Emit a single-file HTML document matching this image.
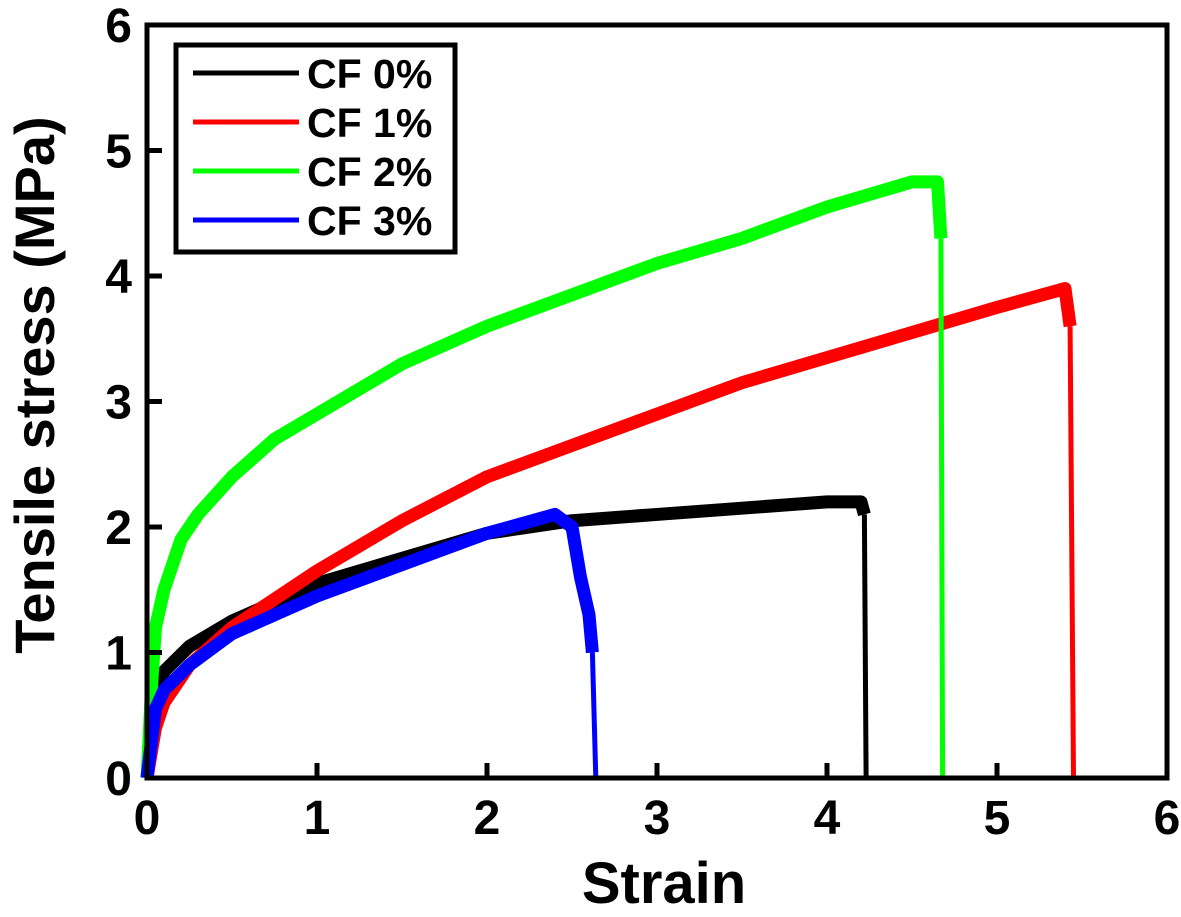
<!DOCTYPE html>
<html><head><meta charset="utf-8"><style>
body{margin:0;background:#fff}
svg text{font-family:"Liberation Sans",Arial,sans-serif;font-weight:bold;fill:#000}
</style></head><body>
<svg id="chart" width="1181" height="912" viewBox="0 0 1181 912">
<g id="series"></g>
<g id="axes"></g>
<g>
<rect x="176" y="45" width="279" height="207" fill="#fff" stroke="#000" stroke-width="5"/>
<line x1="193" y1="73" x2="299" y2="73" stroke="#000" stroke-width="5"/>
<text x="307" y="88" font-size="41">CF 0%</text>
<line x1="193" y1="122" x2="299" y2="122" stroke="#ff0000" stroke-width="5"/>
<text x="307" y="137" font-size="41">CF 1%</text>
<line x1="193" y1="171" x2="299" y2="171" stroke="#00ff00" stroke-width="5"/>
<text x="307" y="186" font-size="41">CF 2%</text>
<line x1="193" y1="220" x2="299" y2="220" stroke="#0000ff" stroke-width="5"/>
<text x="307" y="235" font-size="41">CF 3%</text>
</g>
<text x="664" y="903" font-size="58" text-anchor="middle">Strain</text>
<text transform="translate(54,385) rotate(-90)" font-size="56" text-anchor="middle">Tensile stress (MPa)</text>
</svg>
<script>
const xTicks=[0,1,2,3,4,5,6];
const yTicks=[0,1,2,3,4,5,6];
const cf0Strain=[0,0.05,0.1,0.25,0.5,0.75,1,1.5,2,2.5,3,3.5,4,4.2,4.22,4.23];
const cf0Stress=[0,0.6,0.85,1.05,1.25,1.4,1.55,1.75,1.95,2.05,2.1,2.15,2.2,2.2,2.1,0];
const cf1Strain=[0,0.05,0.1,0.25,0.5,1,1.5,2,2.5,3,3.5,4,4.5,5,5.4,5.43,5.45];
const cf1Stress=[0,0.4,0.6,0.9,1.2,1.65,2.05,2.4,2.65,2.9,3.15,3.35,3.55,3.75,3.9,3.6,0];
const cf2Strain=[0,0.03,0.05,0.1,0.2,0.3,0.5,0.75,1,1.5,2,2.5,3,3.5,4,4.5,4.65,4.67,4.68];
const cf2Stress=[0,0.8,1.2,1.5,1.9,2.1,2.4,2.7,2.9,3.3,3.6,3.85,4.1,4.3,4.55,4.75,4.75,4.3,0];
const cf3Strain=[0,0.05,0.1,0.25,0.5,1,1.5,2,2.4,2.5,2.55,2.6,2.62,2.64];
const cf3Stress=[0,0.55,0.7,0.9,1.15,1.45,1.7,1.95,2.1,2.0,1.6,1.3,1.0,0];
const X0=147,X1=1167,Y0=778,Y1=25;
const sx=v=>X0+(X1-X0)*v/6, sy=v=>Y0-(Y0-Y1)*v/6;
const NS='http://www.w3.org/2000/svg';
const sg=document.getElementById('series');
function drawSeries(xs,ys,color,name){
  const n=xs.length;
  const p=document.createElementNS(NS,'polyline');
  p.setAttribute('points',xs.slice(0,n-1).map((x,i)=>sx(x)+','+sy(ys[i])).join(' '));
  p.setAttribute('fill','none');p.setAttribute('stroke',color);
  p.setAttribute('stroke-width','13');p.setAttribute('stroke-linejoin','round');
  
  
  sg.appendChild(p);
  const d=document.createElementNS(NS,'line');
  d.setAttribute('x1',sx(xs[n-2]));d.setAttribute('y1',sy(ys[n-2]));
  d.setAttribute('x2',sx(xs[n-1]));d.setAttribute('y2',sy(ys[n-1]));
  d.setAttribute('stroke',color);d.setAttribute('stroke-width','5');
  
  
  sg.appendChild(d);
}
drawSeries(cf0Strain,cf0Stress,'#000','series-cf0');
drawSeries(cf1Strain,cf1Stress,'#ff0000','series-cf1');
drawSeries(cf2Strain,cf2Stress,'#00ff00','series-cf2');
drawSeries(cf3Strain,cf3Stress,'#0000ff','series-cf3');
const ag=document.getElementById('axes');
const frame=document.createElementNS(NS,'rect');
frame.setAttribute('x',X0);frame.setAttribute('y',Y1);
frame.setAttribute('width',X1-X0);frame.setAttribute('height',Y0-Y1);
frame.setAttribute('fill','none');frame.setAttribute('stroke','#000');frame.setAttribute('stroke-width','5');


ag.appendChild(frame);
xTicks.forEach(t=>{
  const l=document.createElementNS(NS,'line');
  l.setAttribute('x1',sx(t));l.setAttribute('x2',sx(t));l.setAttribute('y1',Y0);l.setAttribute('y2',Y0-15);
  l.setAttribute('stroke','#000');l.setAttribute('stroke-width','5');
  
  
  ag.appendChild(l);
  const tx=document.createElementNS(NS,'text');
  tx.setAttribute('x',sx(t));tx.setAttribute('y',834);tx.setAttribute('font-size','48');tx.setAttribute('text-anchor','middle');
  tx.textContent=t;
  
  
  ag.appendChild(tx);
});
yTicks.forEach(t=>{
  const l=document.createElementNS(NS,'line');
  l.setAttribute('x1',X0);l.setAttribute('x2',X0+15);l.setAttribute('y1',sy(t));l.setAttribute('y2',sy(t));
  l.setAttribute('stroke','#000');l.setAttribute('stroke-width','5');
  
  
  ag.appendChild(l);
  const tx=document.createElementNS(NS,'text');
  tx.setAttribute('x',132);tx.setAttribute('y',sy(t)+17);tx.setAttribute('font-size','48');tx.setAttribute('text-anchor','end');
  tx.textContent=t;
  
  
  ag.appendChild(tx);
});
</script>
</body></html>
